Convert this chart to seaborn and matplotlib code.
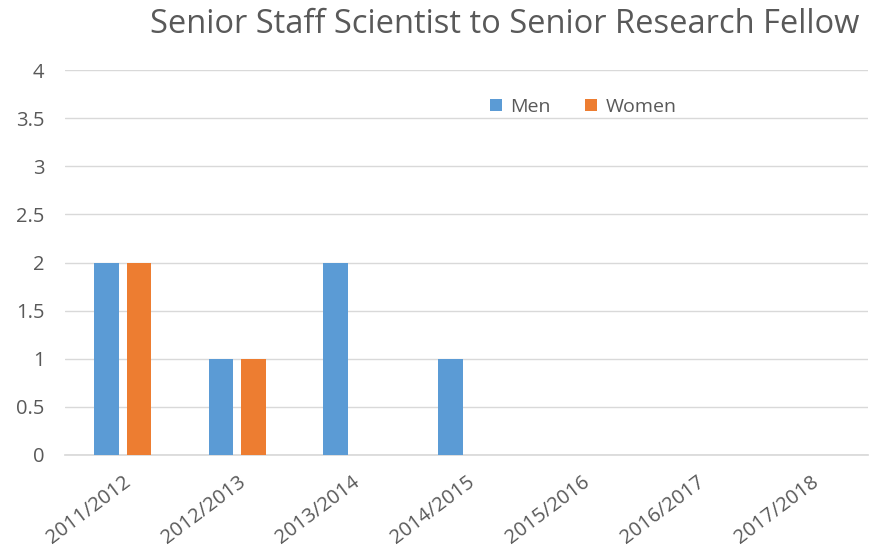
import matplotlib
matplotlib.use("Agg")
import matplotlib.pyplot as plt
import seaborn as sns
import pandas as pd

years = ["2011/2012", "2012/2013", "2013/2014", "2014/2015", "2015/2016", "2016/2017", "2017/2018"]
men = [2, 1, 2, 1, 0, 0, 0]
women = [2, 1, 0, 0, 0, 0, 0]
series = ["Men", "Women"]
colors = ["#5b9bd5", "#ed7d31"]
yticks = [0, 0.5, 1, 1.5, 2, 2.5, 3, 3.5, 4]
ytick_labels = ["0", "0.5", "1", "1.5", "2", "2.5", "3", "3.5", "4"]

df = pd.DataFrame({
    "Year": years * 2,
    "Value": men + women,
    "Series": [series[0]] * len(years) + [series[1]] * len(years),
})

sns.set_theme(style="white")
plt.rcParams["font.family"] = ["Open Sans", "DejaVu Sans"]

fig = plt.figure(figsize=(8.7, 5.6), dpi=100)
ax = fig.add_axes([0.075, 0.1875, 0.923, 0.6875])

sns.barplot(data=df, x="Year", y="Value", hue="Series", palette=colors,
            width=0.57, gap=0.24, ax=ax, zorder=3, saturation=1, linewidth=0,
            edgecolor="none")

ax.set_ylim(0, 4)
ax.set_xlim(-0.5, len(years) - 0.5)
ax.set_yticks(yticks)
ax.set_yticklabels(ytick_labels)
ax.yaxis.grid(True, color="#d9d9d9", linewidth=1, zorder=0)
ax.set_axisbelow(True)
for s in ["top", "right", "left"]:
    ax.spines[s].set_visible(False)
ax.spines["bottom"].set_color("#d9d9d9")
ax.tick_params(axis="both", length=0, colors="#595959", labelsize=14.5)
ax.tick_params(axis="y", pad=15)
ax.tick_params(axis="x", pad=12)
ax.set_xlabel("")
ax.set_ylabel("")
for lab in ax.get_xticklabels():
    lab.set_rotation(37)
    lab.set_ha("right")
    lab.set_rotation_mode("anchor")

fig.text(0.58, 0.957, "Senior Staff Scientist to Senior Research Fellow",
         ha="center", va="center", fontsize=23.5, color="#595959")

leg = ax.legend(loc="center left", bbox_to_anchor=(0.529, 0.904), ncol=2, frameon=False,
                fontsize=14, handlelength=0.6, handleheight=0.6, columnspacing=1.75,
                handletextpad=0.45, borderpad=0, borderaxespad=0)
for t in leg.get_texts():
    t.set_color("#595959")

fig.savefig("out.png", dpi=100)
